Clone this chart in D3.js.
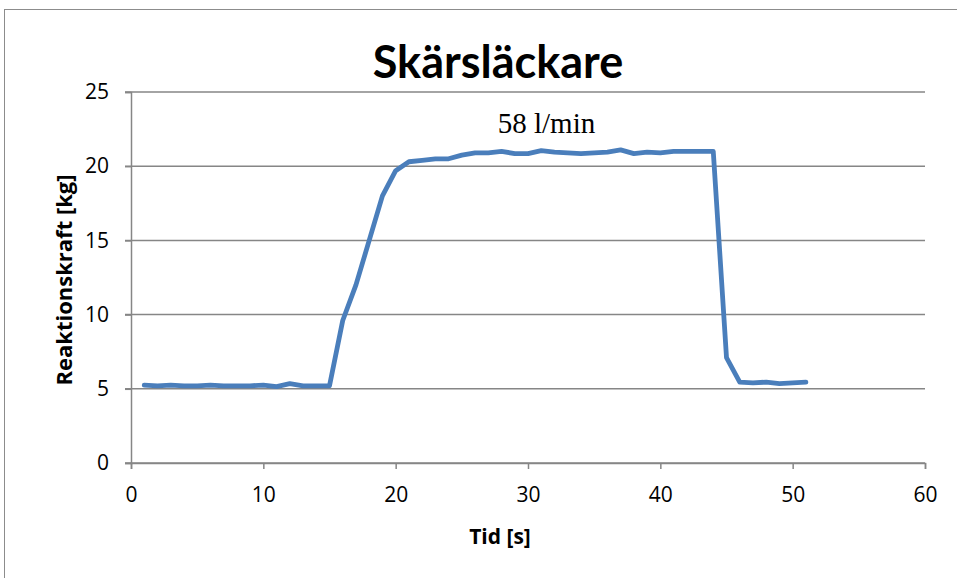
<!DOCTYPE html>
<html>
<head>
<meta charset="utf-8">
<script src="https://cdn.jsdelivr.net/npm/d3@7"></script>
<style>
  html, body { margin: 0; padding: 0; background: #fff; }
  svg { display: block; }
</style>
</head>
<body>
<svg id="chart" width="957" height="578"></svg>
<script>
// Reaction force measured each second for the nozzle at 58 l/min
const timeSeconds = d3.range(1, 52);
const forceKg = [
  5.25, 5.2, 5.25, 5.2, 5.2, 5.25, 5.2, 5.2, 5.2, 5.25,
  5.15, 5.35, 5.2, 5.2, 5.2, 9.6, 12.0, 15.0, 18.0, 19.7,
  20.3, 20.4, 20.5, 20.5, 20.75, 20.9, 20.9, 21.0, 20.85, 20.85,
  21.05, 20.95, 20.9, 20.85, 20.9, 20.95, 21.1, 20.85, 20.95, 20.9,
  21.0, 21.0, 21.0, 21.0, 7.1, 5.45, 5.4, 5.45, 5.35, 5.4, 5.45
];
const xTicks = [0, 10, 20, 30, 40, 50, 60];
const yTicks = [0, 5, 10, 15, 20, 25];
const titleText = "Skärsläckare";
const xTitle = "Tid [s]";
const yTitle = "Reaktionskraft [kg]";
const annotation = "58 l/min";

const svg = d3.select("#chart");
const plot = { left: 131, right: 925, top: 92, bottom: 463 };

const x = d3.scaleLinear().domain([0, 60]).range([plot.left, plot.right]);
const y = d3.scaleLinear().domain([0, 25]).range([plot.bottom, plot.top]);

// chart frame
svg.append("rect")
  .attr("x", 4.5).attr("y", 9.5)
  .attr("width", 1000).attr("height", 1000)
  .attr("fill", "none").attr("stroke", "#8c8c8c").attr("stroke-width", 1);

// horizontal gridlines
svg.append("g")
  .selectAll("line")
  .data(yTicks)
  .join("line")
  .attr("x1", plot.left - 6).attr("x2", plot.right)
  .attr("y1", d => y(d)).attr("y2", d => y(d))
  .attr("stroke", "#868686").attr("stroke-width", 1.5);

// y axis
const yAxis = svg.append("g")
  .attr("transform", `translate(${plot.left},0)`)
  .call(d3.axisLeft(y).tickValues(yTicks).tickSize(6).tickPadding(16).tickFormat(d3.format("d")));
yAxis.select(".domain").attr("stroke", "#868686").attr("stroke-width", 1.5);
yAxis.selectAll(".tick line").attr("stroke", "#868686").attr("stroke-width", 1.5);
yAxis.selectAll(".tick text")
  .attr("font-family", "'Open Sans', sans-serif").attr("font-size", 21).attr("fill", "#000");

// x axis
const xAxis = svg.append("g")
  .attr("transform", `translate(0,${plot.bottom})`)
  .call(d3.axisBottom(x).tickValues(xTicks).tickSize(6).tickPadding(18).tickFormat(d3.format("d")));
xAxis.select(".domain").attr("stroke", "#868686").attr("stroke-width", 1.5);
xAxis.selectAll(".tick line").attr("stroke", "#868686").attr("stroke-width", 1.5);
xAxis.selectAll(".tick text")
  .attr("font-family", "'Open Sans', sans-serif").attr("font-size", 21).attr("fill", "#000");

// data line
const line = d3.line()
  .x((d, i) => x(timeSeconds[i]))
  .y(d => y(d));
svg.append("path")
  .datum(forceKg)
  .attr("d", line)
  .attr("fill", "none")
  .attr("stroke", "#4a7ebb")
  .attr("stroke-width", 4.8)
  .attr("stroke-linejoin", "round")
  .attr("stroke-linecap", "round");

// title
svg.append("text")
  .attr("x", 498).attr("y", 78)
  .attr("text-anchor", "middle")
  .attr("font-family", "Lato, sans-serif").attr("font-weight", "bold").attr("font-size", 45)
  .text(titleText);

// annotation
svg.append("text")
  .attr("x", 546.5).attr("y", 133)
  .attr("text-anchor", "middle")
  .attr("font-family", "'Liberation Serif', serif").attr("font-size", 29)
  .text(annotation);

// axis titles
svg.append("text")
  .attr("x", 500).attr("y", 544)
  .attr("text-anchor", "middle")
  .attr("font-family", "'Open Sans', sans-serif").attr("font-weight", "bold").attr("font-size", 21)
  .text(xTitle);

svg.append("text")
  .attr("transform", "translate(72,280) rotate(-90)")
  .attr("text-anchor", "middle")
  .attr("font-family", "'Open Sans', sans-serif").attr("font-weight", "bold").attr("font-size", 22)
  .text(yTitle);
</script>
</body>
</html>
